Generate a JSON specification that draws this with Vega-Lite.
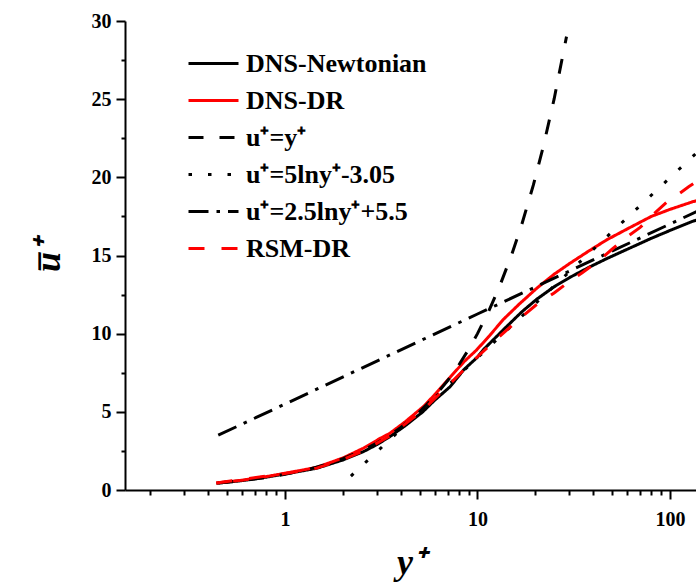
{
  "$schema": "https://vega.github.io/schema/vega-lite/v6.json",
  "width": 571,
  "height": 469,
  "autosize": "none",
  "padding": {"left": 125, "top": 21, "right": 0, "bottom": 98},
  "background": "white",
  "config": {
    "view": {"stroke": null},
    "font": "Liberation Serif",
    "legend": {
      "labelFont": "Liberation Serif",
      "labelFontSize": 26,
      "labelFontWeight": "bold",
      "labelColor": "black",
      "symbolType": "stroke",
      "symbolSize": 2500,
      "symbolStrokeWidth": 3,
      "labelOffset": 6,
      "labelLimit": 400,
      "rowPadding": 0,
      "clipHeight": 37,
      "padding": 0
    }
  },
  "data": {
    "values": [
      {"series": "DNS-Newtonian", "yplus": 0.44, "uplus": 0.43},
      {"series": "DNS-Newtonian", "yplus": 0.6, "uplus": 0.6},
      {"series": "DNS-Newtonian", "yplus": 0.8, "uplus": 0.82},
      {"series": "DNS-Newtonian", "yplus": 1.0, "uplus": 1.03},
      {"series": "DNS-Newtonian", "yplus": 1.2, "uplus": 1.2},
      {"series": "DNS-Newtonian", "yplus": 1.46, "uplus": 1.39},
      {"series": "DNS-Newtonian", "yplus": 2.0, "uplus": 1.92},
      {"series": "DNS-Newtonian", "yplus": 2.55, "uplus": 2.45},
      {"series": "DNS-Newtonian", "yplus": 3.0, "uplus": 2.9},
      {"series": "DNS-Newtonian", "yplus": 3.5, "uplus": 3.41},
      {"series": "DNS-Newtonian", "yplus": 4.2, "uplus": 4.1},
      {"series": "DNS-Newtonian", "yplus": 5.2, "uplus": 5.0},
      {"series": "DNS-Newtonian", "yplus": 6.0, "uplus": 5.75},
      {"series": "DNS-Newtonian", "yplus": 7.2, "uplus": 6.6},
      {"series": "DNS-Newtonian", "yplus": 8.5, "uplus": 7.7},
      {"series": "DNS-Newtonian", "yplus": 10, "uplus": 8.5},
      {"series": "DNS-Newtonian", "yplus": 10.7, "uplus": 8.96},
      {"series": "DNS-Newtonian", "yplus": 13.6, "uplus": 10.24},
      {"series": "DNS-Newtonian", "yplus": 17, "uplus": 11.4},
      {"series": "DNS-Newtonian", "yplus": 20.3, "uplus": 12.2},
      {"series": "DNS-Newtonian", "yplus": 25, "uplus": 13.0},
      {"series": "DNS-Newtonian", "yplus": 30.2, "uplus": 13.6},
      {"series": "DNS-Newtonian", "yplus": 38, "uplus": 14.25},
      {"series": "DNS-Newtonian", "yplus": 46.9, "uplus": 14.8},
      {"series": "DNS-Newtonian", "yplus": 60, "uplus": 15.4},
      {"series": "DNS-Newtonian", "yplus": 80, "uplus": 16.1},
      {"series": "DNS-Newtonian", "yplus": 100, "uplus": 16.6},
      {"series": "DNS-Newtonian", "yplus": 132, "uplus": 17.2},
      {"series": "DNS-Newtonian", "yplus": 160, "uplus": 17.5},
      {"series": "DNS-DR", "yplus": 0.44, "uplus": 0.45},
      {"series": "DNS-DR", "yplus": 0.6, "uplus": 0.63},
      {"series": "DNS-DR", "yplus": 0.8, "uplus": 0.86},
      {"series": "DNS-DR", "yplus": 1.0, "uplus": 1.07},
      {"series": "DNS-DR", "yplus": 1.2, "uplus": 1.25},
      {"series": "DNS-DR", "yplus": 1.46, "uplus": 1.45},
      {"series": "DNS-DR", "yplus": 2.0, "uplus": 2.05},
      {"series": "DNS-DR", "yplus": 2.55, "uplus": 2.67},
      {"series": "DNS-DR", "yplus": 3.12, "uplus": 3.3},
      {"series": "DNS-DR", "yplus": 3.5, "uplus": 3.62},
      {"series": "DNS-DR", "yplus": 4.2, "uplus": 4.35},
      {"series": "DNS-DR", "yplus": 5.23, "uplus": 5.33},
      {"series": "DNS-DR", "yplus": 6.0, "uplus": 6.1},
      {"series": "DNS-DR", "yplus": 7.2, "uplus": 7.2},
      {"series": "DNS-DR", "yplus": 8.5, "uplus": 8.2},
      {"series": "DNS-DR", "yplus": 9.9, "uplus": 8.96},
      {"series": "DNS-DR", "yplus": 11.6, "uplus": 9.9},
      {"series": "DNS-DR", "yplus": 13.6, "uplus": 10.9},
      {"series": "DNS-DR", "yplus": 16.5, "uplus": 11.9},
      {"series": "DNS-DR", "yplus": 20.3, "uplus": 12.9},
      {"series": "DNS-DR", "yplus": 25, "uplus": 13.8},
      {"series": "DNS-DR", "yplus": 30.2, "uplus": 14.5},
      {"series": "DNS-DR", "yplus": 38, "uplus": 15.3},
      {"series": "DNS-DR", "yplus": 46.9, "uplus": 16.0},
      {"series": "DNS-DR", "yplus": 60, "uplus": 16.7},
      {"series": "DNS-DR", "yplus": 80, "uplus": 17.5},
      {"series": "DNS-DR", "yplus": 100, "uplus": 17.95},
      {"series": "DNS-DR", "yplus": 132, "uplus": 18.45},
      {"series": "DNS-DR", "yplus": 160, "uplus": 18.7},
      {"series": "u⁺=y⁺", "yplus": 0.45, "uplus": 0.45},
      {"series": "u⁺=y⁺", "yplus": 0.6, "uplus": 0.6},
      {"series": "u⁺=y⁺", "yplus": 0.8, "uplus": 0.8},
      {"series": "u⁺=y⁺", "yplus": 1, "uplus": 1},
      {"series": "u⁺=y⁺", "yplus": 1.3, "uplus": 1.3},
      {"series": "u⁺=y⁺", "yplus": 1.6, "uplus": 1.6},
      {"series": "u⁺=y⁺", "yplus": 2, "uplus": 2},
      {"series": "u⁺=y⁺", "yplus": 2.5, "uplus": 2.5},
      {"series": "u⁺=y⁺", "yplus": 3, "uplus": 3},
      {"series": "u⁺=y⁺", "yplus": 3.5, "uplus": 3.5},
      {"series": "u⁺=y⁺", "yplus": 4, "uplus": 4},
      {"series": "u⁺=y⁺", "yplus": 5, "uplus": 5},
      {"series": "u⁺=y⁺", "yplus": 6, "uplus": 6},
      {"series": "u⁺=y⁺", "yplus": 7, "uplus": 7},
      {"series": "u⁺=y⁺", "yplus": 8, "uplus": 8},
      {"series": "u⁺=y⁺", "yplus": 9, "uplus": 9},
      {"series": "u⁺=y⁺", "yplus": 10, "uplus": 10},
      {"series": "u⁺=y⁺", "yplus": 11.5, "uplus": 11.5},
      {"series": "u⁺=y⁺", "yplus": 13, "uplus": 13},
      {"series": "u⁺=y⁺", "yplus": 15, "uplus": 15},
      {"series": "u⁺=y⁺", "yplus": 17, "uplus": 17},
      {"series": "u⁺=y⁺", "yplus": 19.5, "uplus": 19.5},
      {"series": "u⁺=y⁺", "yplus": 22, "uplus": 22},
      {"series": "u⁺=y⁺", "yplus": 25, "uplus": 25},
      {"series": "u⁺=y⁺", "yplus": 29, "uplus": 29},
      {"series": "u⁺=5lny⁺-3.05", "yplus": 2.2, "uplus": 0.893},
      {"series": "u⁺=5lny⁺-3.05", "yplus": 3, "uplus": 2.443},
      {"series": "u⁺=5lny⁺-3.05", "yplus": 5, "uplus": 4.997},
      {"series": "u⁺=5lny⁺-3.05", "yplus": 10, "uplus": 8.463},
      {"series": "u⁺=5lny⁺-3.05", "yplus": 20, "uplus": 11.929},
      {"series": "u⁺=5lny⁺-3.05", "yplus": 50, "uplus": 16.51},
      {"series": "u⁺=5lny⁺-3.05", "yplus": 100, "uplus": 19.976},
      {"series": "u⁺=5lny⁺-3.05", "yplus": 150, "uplus": 22.003},
      {"series": "u⁺=2.5lny⁺+5.5", "yplus": 0.45, "uplus": 3.504},
      {"series": "u⁺=2.5lny⁺+5.5", "yplus": 1, "uplus": 5.5},
      {"series": "u⁺=2.5lny⁺+5.5", "yplus": 10, "uplus": 11.257},
      {"series": "u⁺=2.5lny⁺+5.5", "yplus": 100, "uplus": 17.013},
      {"series": "u⁺=2.5lny⁺+5.5", "yplus": 150, "uplus": 18.027},
      {"series": "RSM-DR", "yplus": 0.44, "uplus": 0.45},
      {"series": "RSM-DR", "yplus": 1.0, "uplus": 1.05},
      {"series": "RSM-DR", "yplus": 1.46, "uplus": 1.4},
      {"series": "RSM-DR", "yplus": 2.0, "uplus": 1.95},
      {"series": "RSM-DR", "yplus": 2.55, "uplus": 2.5},
      {"series": "RSM-DR", "yplus": 3.5, "uplus": 3.45},
      {"series": "RSM-DR", "yplus": 5.2, "uplus": 5.1},
      {"series": "RSM-DR", "yplus": 7.2, "uplus": 6.8},
      {"series": "RSM-DR", "yplus": 9, "uplus": 8.0},
      {"series": "RSM-DR", "yplus": 11, "uplus": 9.0},
      {"series": "RSM-DR", "yplus": 13.8, "uplus": 10.1},
      {"series": "RSM-DR", "yplus": 16, "uplus": 10.8},
      {"series": "RSM-DR", "yplus": 20, "uplus": 11.8},
      {"series": "RSM-DR", "yplus": 25, "uplus": 12.6},
      {"series": "RSM-DR", "yplus": 29, "uplus": 13.2},
      {"series": "RSM-DR", "yplus": 35, "uplus": 13.9},
      {"series": "RSM-DR", "yplus": 42, "uplus": 14.6},
      {"series": "RSM-DR", "yplus": 50, "uplus": 15.4},
      {"series": "RSM-DR", "yplus": 60, "uplus": 16.2},
      {"series": "RSM-DR", "yplus": 70, "uplus": 16.8},
      {"series": "RSM-DR", "yplus": 83, "uplus": 17.7},
      {"series": "RSM-DR", "yplus": 96, "uplus": 18.4},
      {"series": "RSM-DR", "yplus": 110, "uplus": 18.9},
      {"series": "RSM-DR", "yplus": 125, "uplus": 19.4},
      {"series": "RSM-DR", "yplus": 140, "uplus": 19.8},
      {"series": "RSM-DR", "yplus": 160, "uplus": 20.2}
    ]
  },
  "mark": {"type": "line", "clip": true, "strokeWidth": 3, "strokeCap": "butt"},
  "encoding": {
    "x": {
      "field": "yplus",
      "type": "quantitative",
      "scale": {"type": "log", "domain": [0.1475, 136.5], "nice": false},
      "axis": {
        "title": "y⁺",
        "values": [0.2, 0.3, 0.4, 0.5, 0.6, 0.7, 0.8, 0.9, 1, 2, 3, 4, 5, 6, 7, 8, 9, 10, 20, 30, 40, 50, 60, 70, 80, 90, 100],
        "labelExpr": "datum.value == 1 ? '1' : datum.value == 10 ? '10' : datum.value == 100 ? '100' : ''",
        "tickSize": {"condition": {"test": "datum.value == 1 || datum.value == 10 || datum.value == 100", "value": 9}, "value": 5},
        "grid": false,
        "domainColor": "black",
        "domainWidth": 2,
        "tickColor": "black",
        "tickWidth": 2,
        "labelFont": "Liberation Serif",
        "labelFontSize": 20,
        "labelFontWeight": "bold",
        "labelColor": "black",
        "labelPadding": 10,
        "labelOverlap": false,
        "titleFont": "Liberation Serif",
        "titleFontSize": 36,
        "titleFontWeight": "bold",
        "titleFontStyle": "italic",
        "titleColor": "black",
        "titlePadding": 16
      }
    },
    "y": {
      "field": "uplus",
      "type": "quantitative",
      "scale": {"domain": [0, 30], "nice": false},
      "axis": {
        "title": "u̅⁺",
        "values": [0, 2.5, 5, 7.5, 10, 12.5, 15, 17.5, 20, 22.5, 25, 27.5, 30],
        "labelExpr": "datum.value % 5 == 0 ? format(datum.value, 'd') : ''",
        "tickSize": {"condition": {"test": "datum.value % 5 == 0", "value": 9}, "value": 4},
        "grid": false,
        "domainColor": "black",
        "domainWidth": 2,
        "tickColor": "black",
        "tickWidth": 2,
        "labelFont": "Liberation Serif",
        "labelFontSize": 20,
        "labelFontWeight": "bold",
        "labelColor": "black",
        "labelPadding": 5,
        "labelOverlap": false,
        "titleFont": "Liberation Serif",
        "titleFontSize": 36,
        "titleFontWeight": "bold",
        "titleFontStyle": "italic",
        "titleColor": "black",
        "titlePadding": 24
      }
    },
    "color": {
      "field": "series",
      "type": "nominal",
      "scale": {
        "domain": ["DNS-Newtonian", "DNS-DR", "u⁺=y⁺", "u⁺=5lny⁺-3.05", "u⁺=2.5lny⁺+5.5", "RSM-DR"],
        "range": ["black", "#ff0000", "black", "black", "black", "#ff0000"]
      },
      "legend": {
        "title": null,
        "orient": "none",
        "legendX": 62,
        "legendY": 24,
        "padding": 0,
        "symbolType": "stroke",
        "symbolSize": 2500,
        "symbolStrokeWidth": 3,
        "labelFont": "Liberation Serif",
        "labelFontSize": 26,
        "labelFontWeight": "bold",
        "labelColor": "black",
        "labelOffset": 6,
        "labelLimit": 400,
        "rowPadding": 0,
        "clipHeight": 37
      }
    },
    "strokeDash": {
      "field": "series",
      "type": "nominal",
      "scale": {
        "domain": ["DNS-Newtonian", "DNS-DR", "u⁺=y⁺", "u⁺=5lny⁺-3.05", "u⁺=2.5lny⁺+5.5", "RSM-DR"],
        "range": [[1, 0], [1, 0], [15, 16], [3.5, 16], [20, 8, 3.5, 8], [16, 17]]
      },
      "legend": {
        "title": null,
        "orient": "none",
        "legendX": 62,
        "legendY": 24,
        "padding": 0,
        "symbolType": "stroke",
        "symbolSize": 2500,
        "symbolStrokeWidth": 3,
        "labelFont": "Liberation Serif",
        "labelFontSize": 26,
        "labelFontWeight": "bold",
        "labelColor": "black",
        "labelOffset": 6,
        "labelLimit": 400,
        "rowPadding": 0,
        "clipHeight": 37
      }
    }
  }
}
